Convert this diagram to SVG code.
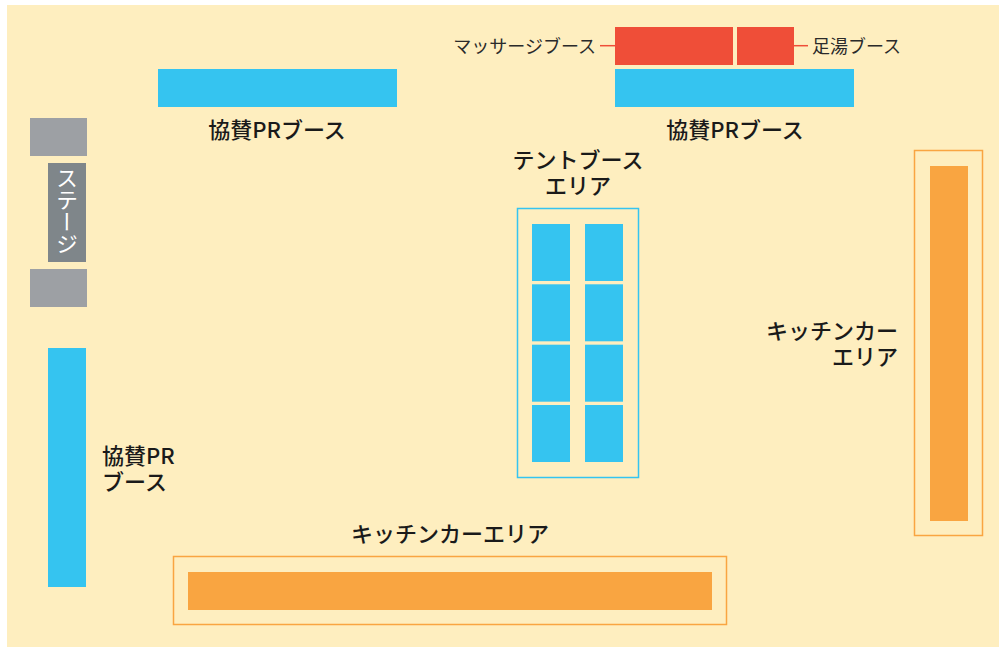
<svg xmlns="http://www.w3.org/2000/svg" width="999" height="647" viewBox="0 0 999 647">
<style>
.bg{fill:#feeebf}
.pr{fill:#35c4f0}
.red{fill:#ef4e38}
.org{fill:#f9a541}
.orgbox{fill:none;stroke:#f9a541;stroke-width:1.5}
.tentbox{fill:none;stroke:#35c4f0;stroke-width:1.5}
.gray{fill:#9da0a4}
.dgray{fill:#7f868a}
.lbl{font-family:"Noto Sans CJK JP","Noto Sans",sans-serif;font-size:22px;font-weight:500;fill:#1a1a1a}
.sm{font-family:"Noto Sans CJK JP","Noto Sans",sans-serif;font-size:18px;font-weight:400;fill:#2a2a2a}
.lead{stroke:#ef4e38;stroke-width:1.5;fill:none}
</style>
<rect class="bg" x="7" y="5" width="992" height="642"/>

<g id="pr-top-left">
<rect class="pr" x="158" y="69" width="239" height="38"/>
<text class="lbl" x="277" y="138" text-anchor="middle">協賛PRブース</text>
</g>

<g id="pr-top-right">
<rect class="pr" x="615" y="69" width="239" height="38"/>
<text class="lbl" x="735" y="138" text-anchor="middle">協賛PRブース</text>
</g>

<g id="massage">
<rect class="red" x="615" y="27" width="118" height="38"/>
<text class="sm" x="596" y="53" text-anchor="end">マッサージブース</text>
</g>

<g id="footbath">
<rect class="red" x="737" y="27" width="57" height="38"/>
<text class="sm" x="812" y="53">足湯ブース</text>
</g>

<g id="stage">
<rect class="gray" x="30" y="118" width="57" height="38"/>
<rect class="dgray" x="48" y="163" width="38" height="99"/>
<rect class="gray" x="30" y="269" width="57" height="38"/>
<text x="67" y="167" style="writing-mode:vertical-rl;font-family:'Noto Sans CJK JP','Noto Sans',sans-serif;font-size:22px;fill:#ffffff">ステージ</text>
</g>

<g id="pr-left">
<rect class="pr" x="48" y="348" width="38" height="239"/>
<text class="lbl" x="102" y="464">協賛PR</text>
<text class="lbl" x="102" y="490">ブース</text>
</g>

<g id="tent-area">
<text class="lbl" x="578" y="168" text-anchor="middle">テントブース</text>
<text class="lbl" x="578" y="194" text-anchor="middle">エリア</text>
<rect class="tentbox" x="517.5" y="208.5" width="121" height="269"/>
<rect class="pr" x="532" y="224" width="38" height="57"/>
<rect class="pr" x="585" y="224" width="38" height="57"/>
<rect class="pr" x="532" y="284.3" width="38" height="57"/>
<rect class="pr" x="585" y="284.3" width="38" height="57"/>
<rect class="pr" x="532" y="344.7" width="38" height="57"/>
<rect class="pr" x="585" y="344.7" width="38" height="57"/>
<rect class="pr" x="532" y="405" width="38" height="57"/>
<rect class="pr" x="585" y="405" width="38" height="57"/>
</g>

<g id="kitchen-right">
<rect class="orgbox" x="914.5" y="150.5" width="68" height="385"/>
<rect class="org" x="930" y="166" width="38" height="355"/>
<text class="lbl" x="898" y="339" text-anchor="end">キッチンカー</text>
<text class="lbl" x="898" y="365" text-anchor="end">エリア</text>
</g>

<g id="kitchen-bottom">
<text class="lbl" x="450" y="542" text-anchor="middle">キッチンカーエリア</text>
<rect class="orgbox" x="173.5" y="556.5" width="553" height="68"/>
<rect class="org" x="188" y="572" width="524" height="38"/>
</g>

<g id="connectors">
<line class="lead" x1="600" y1="45.7" x2="615" y2="45.7"/>
<line class="lead" x1="794" y1="45.7" x2="808" y2="45.7"/>
</g>
</svg>
